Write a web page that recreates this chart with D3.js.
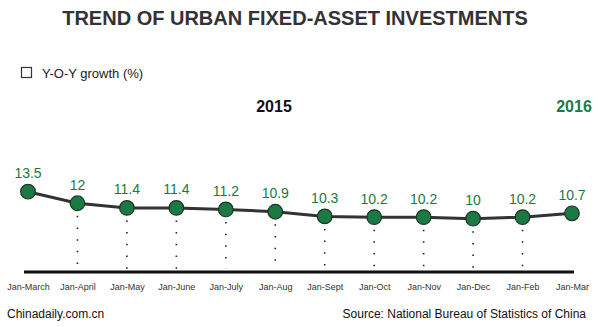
<!DOCTYPE html>
<html>
<head>
<meta charset="utf-8">
<script src="https://cdn.jsdelivr.net/npm/d3@7"></script>
<style>
  html, body { margin: 0; padding: 0; background: #fff; }
  svg { display: block; font-family: "Liberation Sans", Arial, sans-serif; }
</style>
</head>
<body>
<svg id="chart" width="600" height="327"></svg>
<script>
const categories = ["Jan-March", "Jan-April", "Jan-May", "Jan-June", "Jan-July", "Jan-Aug",
                    "Jan-Sept", "Jan-Oct", "Jan-Nov", "Jan-Dec", "Jan-Feb", "Jan-Mar"];
const growth = [13.5, 12, 11.4, 11.4, 11.2, 10.9, 10.3, 10.2, 10.2, 10, 10.2, 10.7];
const valueLabels = ["13.5", "12", "11.4", "11.4", "11.2", "10.9", "10.3", "10.2", "10.2", "10", "10.2", "10.7"];
const yearLabels = ["2015", "2016"];

const svg = d3.select("#chart");
const green = "#1b7a43";
const dark = "#333333";

const x = d3.scalePoint().domain(categories).range([28, 572]);
const y = d3.scaleLinear().domain([10, 13.5]).range([218.7, 191.7]);
const axisY = 272;

// Title
svg.append("text")
  .attr("x", 295).attr("y", 25)
  .attr("text-anchor", "middle")
  .attr("font-size", 20).attr("font-weight", "bold")
  .attr("fill", dark)
  .text("TREND OF URBAN FIXED-ASSET INVESTMENTS");

// Legend
svg.append("rect")
  .attr("x", 21.5).attr("y", 67.5).attr("width", 10).attr("height", 10)
  .attr("fill", "none").attr("stroke", dark).attr("stroke-width", 1.2);
svg.append("text")
  .attr("x", 42).attr("y", 78)
  .attr("font-size", 13).attr("fill", "#222")
  .text("Y-O-Y growth (%)");

// Year labels
svg.append("text")
  .attr("x", 274).attr("y", 112)
  .attr("text-anchor", "middle")
  .attr("font-size", 16).attr("font-weight", "bold").attr("fill", "#111")
  .text(yearLabels[0]);
svg.append("text")
  .attr("x", 574).attr("y", 112)
  .attr("text-anchor", "middle")
  .attr("font-size", 16).attr("font-weight", "bold").attr("fill", green)
  .text(yearLabels[1]);

// Dotted drop lines (not for first and last)
const dropIdx = d3.range(1, categories.length - 1);
svg.append("g").selectAll("line")
  .data(dropIdx)
  .join("line")
  .attr("x1", i => x(categories[i])).attr("x2", i => x(categories[i]))
  .attr("y1", i => y(growth[i]) + 12.5)
  .attr("y2", axisY - 3)
  .attr("stroke", "#222").attr("stroke-width", 1.6)
  .attr("stroke-dasharray", "1.5,10.2");

// Axis line via d3 axis
const axis = d3.axisBottom(x).tickSize(0).tickPadding(12);
const gAxis = svg.append("g").attr("transform", `translate(0,${axisY})`).call(axis);
gAxis.select(".domain").remove();
gAxis.selectAll("text")
  .attr("font-size", 9).attr("fill", "#333")
  .attr("font-family", "'Liberation Sans', Arial, sans-serif")
  .attr("dy", 0).attr("y", 18);
svg.append("line")
  .attr("x1", 24).attr("x2", 574)
  .attr("y1", axisY).attr("y2", axisY)
  .attr("stroke", "#111").attr("stroke-width", 3);

// Line
const line = d3.line().x((d, i) => x(categories[i])).y(d => y(d));
svg.append("path")
  .datum(growth)
  .attr("d", line)
  .attr("fill", "none")
  .attr("stroke", "#333").attr("stroke-width", 3);

// Points
svg.append("g").selectAll("circle")
  .data(growth)
  .join("circle")
  .attr("cx", (d, i) => x(categories[i]))
  .attr("cy", d => y(d))
  .attr("r", 7.3)
  .attr("fill", green)
  .attr("stroke", "#1c3324").attr("stroke-width", 1.2);

// Value labels
svg.append("g").selectAll("text")
  .data(growth)
  .join("text")
  .attr("x", (d, i) => x(categories[i]))
  .attr("y", d => y(d) - 13.5)
  .attr("text-anchor", "middle")
  .attr("font-size", 14)
  .attr("fill", green)
  .text((d, i) => valueLabels[i]);

// Footer
svg.append("text")
  .attr("x", 7).attr("y", 318)
  .attr("font-size", 12).attr("fill", "#111")
  .text("Chinadaily.com.cn");
svg.append("text")
  .attr("x", 586).attr("y", 318)
  .attr("text-anchor", "end")
  .attr("font-size", 12).attr("fill", "#111")
  .text("Source: National Bureau of Statistics of China");
</script>
</body>
</html>
